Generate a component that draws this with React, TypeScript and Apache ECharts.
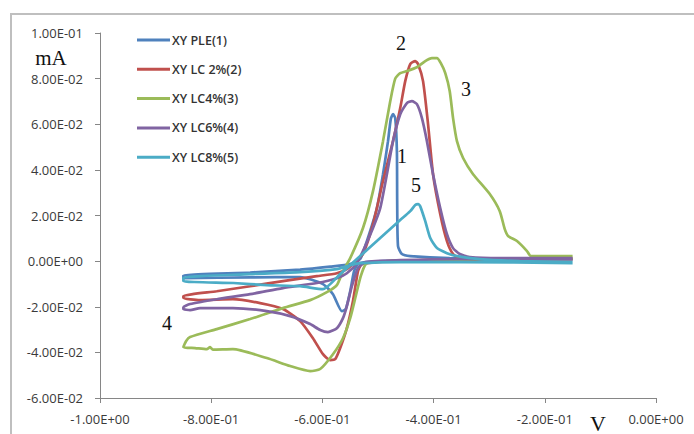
import React, { useEffect, useRef } from "react";
import * as echarts from "echarts";

const seriesNames = ["XY PLE(1)", "XY LC 2%(2)", "XY LC4%(3)", "XY LC6%(4)", "XY LC8%(5)"];

// [potential V, current mA]
const xyPle: number[][] = [
  [-0.15, 0.0009], [-0.3, 0.0006], [-0.45, 0.0002], [-0.52, -0.0004], [-0.536, -0.0013], [-0.543, -0.0044],
  [-0.55, -0.0132], [-0.558, -0.021], [-0.565, -0.0219], [-0.581, -0.0145], [-0.599, -0.0101], [-0.64, -0.007],
  [-0.73, -0.0071], [-0.85, -0.0075],
  [-0.85, -0.0063], [-0.73, -0.005], [-0.64, -0.0037], [-0.586, -0.0024], [-0.55, -0.0013], [-0.532, 0.0009],
  [-0.52, 0.0088], [-0.502, 0.0232], [-0.491, 0.0381], [-0.482, 0.0526], [-0.477, 0.0623], [-0.473, 0.0644],
  [-0.469, 0.0627], [-0.466, 0.0482], [-0.4655, 0.0263], [-0.464, 0.0066], [-0.457, 0.0031], [-0.442, 0.0022],
  [-0.371, 0.0013], [-0.15, 0.0009],
];

const xyLc2: number[][] = [
  [-0.15, 0.0009], [-0.281, 0.0009], [-0.353, 0.0006], [-0.46, 0.0002], [-0.52, -0.0009], [-0.53, -0.0015],
  [-0.536, -0.0044], [-0.545, -0.0175], [-0.556, -0.0294], [-0.568, -0.0381], [-0.577, -0.043], [-0.586, -0.0434],
  [-0.599, -0.0408], [-0.617, -0.0338], [-0.64, -0.0263], [-0.671, -0.021], [-0.712, -0.0184], [-0.761, -0.0167],
  [-0.82, -0.0171], [-0.85, -0.0162],
  [-0.85, -0.0153], [-0.79, -0.0132], [-0.73, -0.011], [-0.671, -0.0088], [-0.61, -0.0066], [-0.574, -0.0053],
  [-0.556, -0.0035], [-0.54, 0.0], [-0.527, 0.0031], [-0.509, 0.0162], [-0.491, 0.0351], [-0.473, 0.0526],
  [-0.46, 0.0671], [-0.451, 0.0789], [-0.442, 0.0864], [-0.433, 0.0877], [-0.428, 0.0864], [-0.419, 0.0789],
  [-0.41, 0.0601], [-0.401, 0.0381], [-0.388, 0.0206], [-0.376, 0.0088], [-0.365, 0.0031], [-0.353, 0.0013],
  [-0.281, 0.0009], [-0.15, 0.0009],
];

const xyLc4: number[][] = [
  [-0.15, 0.0013], [-0.3, 0.0009], [-0.45, 0.0002], [-0.51, -0.0004], [-0.522, -0.0013], [-0.531, -0.0066],
  [-0.54, -0.0153], [-0.55, -0.025], [-0.563, -0.0338], [-0.581, -0.0408], [-0.604, -0.0473], [-0.622, -0.0482],
  [-0.658, -0.046], [-0.7, -0.0425], [-0.761, -0.0386], [-0.797, -0.0388], [-0.802, -0.0377], [-0.808, -0.0386],
  [-0.829, -0.0381], [-0.85, -0.0377],
  [-0.845, -0.035], [-0.838, -0.0333], [-0.79, -0.0298], [-0.73, -0.0254], [-0.671, -0.0206], [-0.622, -0.0171],
  [-0.592, -0.0136], [-0.574, -0.0105], [-0.563, -0.0044], [-0.55, 0.0013], [-0.527, 0.0145], [-0.509, 0.0307],
  [-0.491, 0.0526], [-0.478, 0.0701], [-0.469, 0.08], [-0.46, 0.0824], [-0.448, 0.0833], [-0.43, 0.085],
  [-0.415, 0.0877], [-0.403, 0.089], [-0.394, 0.089], [-0.387, 0.0868], [-0.379, 0.0824], [-0.371, 0.0745],
  [-0.365, 0.0627], [-0.358, 0.0526], [-0.347, 0.0452], [-0.329, 0.0381], [-0.299, 0.0294], [-0.281, 0.0219],
  [-0.272, 0.014], [-0.266, 0.011], [-0.25, 0.0088], [-0.232, 0.0044], [-0.225, 0.0022], [-0.15, 0.0022],
];

const xyLc6: number[][] = [
  [-0.15, 0.0009], [-0.353, 0.0009], [-0.46, 0.0004], [-0.523, -0.0004], [-0.536, -0.0031], [-0.547, -0.011],
  [-0.556, -0.0197], [-0.563, -0.025], [-0.574, -0.0294], [-0.59, -0.0311], [-0.604, -0.0302], [-0.622, -0.0276],
  [-0.658, -0.0241], [-0.7, -0.0219], [-0.761, -0.0206], [-0.82, -0.0206], [-0.838, -0.0215], [-0.85, -0.021],
  [-0.85, -0.0202], [-0.838, -0.0188], [-0.79, -0.0167], [-0.73, -0.0145], [-0.671, -0.0118], [-0.61, -0.0096],
  [-0.574, -0.0075], [-0.556, -0.0053], [-0.538, -0.0009], [-0.523, 0.0066], [-0.509, 0.0145], [-0.496, 0.0232],
  [-0.484, 0.0381], [-0.473, 0.0526], [-0.46, 0.0644], [-0.448, 0.0693], [-0.439, 0.0701], [-0.43, 0.0688],
  [-0.421, 0.0627], [-0.412, 0.0526], [-0.401, 0.0381], [-0.388, 0.0232], [-0.376, 0.0118], [-0.365, 0.0057],
  [-0.353, 0.0031], [-0.335, 0.0018], [-0.281, 0.0013], [-0.15, 0.0013],
];

const xyLc8: number[][] = [
  [-0.15, -0.0009], [-0.353, -0.0004], [-0.46, -0.0004], [-0.532, -0.0009], [-0.55, -0.0018], [-0.574, -0.0035],
  [-0.64, -0.0048], [-0.73, -0.0057], [-0.85, -0.0072],
  [-0.85, -0.0088], [-0.76, -0.0096], [-0.7, -0.0105], [-0.64, -0.011], [-0.599, -0.0123], [-0.568, -0.0057],
  [-0.532, 0.0022], [-0.496, 0.0101], [-0.46, 0.018], [-0.442, 0.0219], [-0.433, 0.0246], [-0.428, 0.025],
  [-0.424, 0.024], [-0.415, 0.0175], [-0.406, 0.0101], [-0.394, 0.0057], [-0.376, 0.0035], [-0.358, 0.0022],
  [-0.317, 0.0009], [-0.245, 0.0], [-0.15, -0.0004],
];

const seriesData = [xyPle, xyLc2, xyLc4, xyLc6, xyLc8];
const seriesColors = ["#4F81BD", "#C0504D", "#9BBB59", "#8064A2", "#4BACC6"];

const curveNumbers = ["1", "2", "3", "4", "5"];

function sci(v: number): string {
  if (Math.abs(v) < 1e-12) v = 0;
  const [m, e] = v.toExponential(2).split("e");
  const n = parseInt(e, 10);
  const s = n < 0 ? "-" : "+";
  const a = Math.abs(n);
  return m + "E" + s + (a < 10 ? "0" + a : String(a));
}

export default function App() {
  const ref = useRef<HTMLDivElement>(null);
  useEffect(() => {
    if (!ref.current) return;
    const chart = echarts.init(ref.current, undefined, { renderer: "svg" });
    const axisColor = "#868686";
    const labelStyle = { color: "#3a3a3a", fontSize: 13, fontFamily: "Open Sans" };
    const serif = "Liberation Serif";
    const numText = (t: string, x: number, y: number) => ({
      type: "text",
      x,
      y,
      style: {
        text: t,
        fill: "#111",
        font: `20px '${serif}'`,
        align: "center",
        verticalAlign: "middle",
        textAlign: "center",
        textVerticalAlign: "middle",
      },
    });
    chart.setOption({
      animation: false,
      backgroundColor: "#ffffff",
      grid: { left: 100, top: 33, right: 38, bottom: 36, containLabel: false },
      xAxis: {
        type: "value",
        min: -1,
        max: 0,
        interval: 0.2,
        axisLine: { show: true, onZero: false, lineStyle: { color: axisColor, width: 1 } },
        axisTick: { show: true, length: 5, lineStyle: { color: axisColor } },
        splitLine: { show: false },
        axisLabel: { ...labelStyle, margin: 14, formatter: (v: number) => sci(v) },
      },
      yAxis: {
        type: "value",
        min: -0.06,
        max: 0.1,
        interval: 0.02,
        axisLine: { show: true, onZero: false, lineStyle: { color: axisColor, width: 1 } },
        axisTick: { show: true, length: 5, lineStyle: { color: axisColor } },
        splitLine: { show: false },
        axisLabel: { ...labelStyle, margin: 17, formatter: (v: number) => sci(v) },
      },
      legend: {
        show: true,
        orient: "vertical",
        left: 137,
        top: 33,
        padding: 0,
        itemGap: 15.3,
        itemWidth: 33,
        itemHeight: 3,
        icon: "rect",
        data: seriesNames,
        textStyle: { color: "#333", fontSize: 12.5, fontWeight: 600, fontFamily: "Open Sans", lineHeight: 14, padding: [0, 0, 0, -3] },
      },
      series: seriesData.map((d, i) => ({
        name: seriesNames[i],
        type: "line",
        data: d,
        showSymbol: false,
        symbol: "none",
        smooth: 0.2,
        lineStyle: { color: seriesColors[i], width: 2.7 },
        itemStyle: { color: seriesColors[i] },
        z: 2 + i,
      })),
      graphic: [
        {
          type: "rect",
          shape: { x: 11, y: 14, width: 720, height: 460 },
          style: { fill: "none", stroke: "#bfbfbf", lineWidth: 2 },
          silent: true,
        },
        {
          type: "text",
          x: 51,
          y: 58,
          style: { text: "mA", fill: "#111", font: `21px '${serif}'`, align: "center", verticalAlign: "middle", textAlign: "center", textVerticalAlign: "middle" },
        },
        {
          type: "text",
          x: 598,
          y: 423,
          style: { text: "V", fill: "#111", font: `22px '${serif}'`, align: "center", verticalAlign: "middle", textAlign: "center", textVerticalAlign: "middle" },
        },
        numText(curveNumbers[0], 402, 156),
        numText(curveNumbers[1], 401, 43),
        numText(curveNumbers[2], 466, 89),
        numText(curveNumbers[3], 167, 323),
        numText(curveNumbers[4], 416, 185),
      ],
    });
    return () => chart.dispose();
  }, []);
  return (
    <div
      ref={ref}
      style={{ position: "absolute", left: 0, top: 0, width: 694, height: 434, background: "#fff" }}
    />
  );
}
